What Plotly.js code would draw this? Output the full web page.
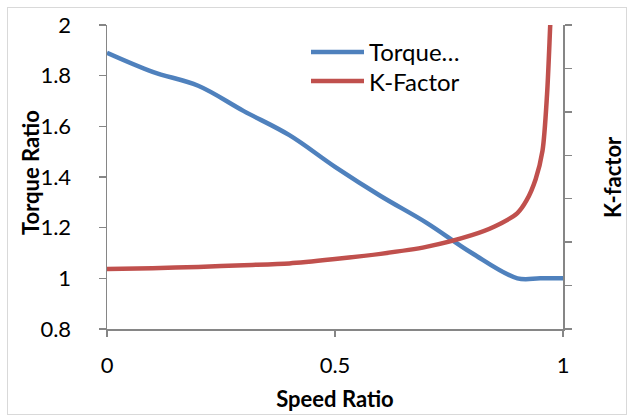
<!DOCTYPE html>
<html>
<head>
<meta charset="utf-8">
<script src="https://cdn.plot.ly/plotly-3.0.1.min.js"></script>
<style>
  html, body { margin: 0; padding: 0; background: #fff; }
  #wrap { position: relative; width: 629px; height: 417px; }
  #chart { position: absolute; left: 0; top: 0; width: 629px; height: 417px; }
  #frame { position: absolute; left: 7px; top: 7px; width: 618px; height: 406px; border: 1.5px solid #d9d9d9; pointer-events: none; }
</style>
</head>
<body>
<div id="wrap"><div id="chart"></div><div id="frame"></div></div>
<script>
// Data
var speedRatio = [0, 0.1, 0.2, 0.3, 0.4, 0.5, 0.6, 0.7, 0.8, 0.9, 0.95, 1.0];
var torqueRatio = [1.89, 1.815, 1.76, 1.66, 1.565, 1.44, 1.325, 1.22, 1.10, 1.0, 1.0, 1.0];

var kSpeed = [0, 0.1, 0.2, 0.3, 0.4, 0.5, 0.6, 0.7, 0.8, 0.85, 0.9, 0.92, 0.94, 0.955, 0.965, 0.972, 0.98];
var kFactor = [138, 140, 143, 147, 151, 161, 173, 189, 216, 236, 267, 296, 345, 410, 540, 700, 900];

var seriesNames = ["Torque\u2026", "K-Factor"];
var axisTitles = ["Speed Ratio", "Torque Ratio", "K-factor"];
var xTicks = [0, 0.5, 1];
var yTicks = [0.8, 1, 1.2, 1.4, 1.6, 1.8, 2];

var blue = "#4F81BD", red = "#C0504D", axisGray = "#868686";
var font = "Lato, 'Open Sans', sans-serif";

var traces = [
  { x: speedRatio, y: torqueRatio, name: seriesNames[0], type: "scatter", mode: "lines",
    line: { color: blue, width: 4.5, shape: "spline", smoothing: 1 }, yaxis: "y" },
  { x: kSpeed, y: kFactor, name: seriesNames[1], type: "scatter", mode: "lines",
    line: { color: red, width: 4.5, shape: "spline", smoothing: 0.8 }, yaxis: "y2" }
];

// manual legend and y titles (paper coords)
function px2x(p) { return (p - 107) / 456; }
function py2y(p) { return (329 - p) / 304; }
var legendRows = [52, 81];
var shapes = [], annotations = [];
[blue, red].forEach(function (c, i) {
  shapes.push({ type: "line", xref: "paper", yref: "paper",
    x0: px2x(311), x1: px2x(364), y0: py2y(legendRows[i]), y1: py2y(legendRows[i]),
    line: { color: c, width: 4.5 } });
  annotations.push({ xref: "paper", yref: "paper", x: px2x(367), y: py2y(legendRows[i]),
    xanchor: "left", yanchor: "middle", showarrow: false, text: seriesNames[i],
    font: { family: font, size: 24, color: "#000" } });
});
annotations.push({ xref: "paper", yref: "paper", x: px2x(30), y: py2y(173),
  xanchor: "center", yanchor: "middle", textangle: -90, showarrow: false,
  text: "<b>" + axisTitles[1] + "</b>", font: { family: font, size: 22, color: "#000" } });
annotations.push({ xref: "paper", yref: "paper", x: px2x(612), y: py2y(177),
  xanchor: "center", yanchor: "middle", textangle: -90, showarrow: false,
  text: "<b>" + axisTitles[2] + "</b>", font: { family: font, size: 22, color: "#000" } });

var layout = {
  width: 629, height: 417,
  margin: { l: 107, r: 66, t: 25, b: 88 },
  paper_bgcolor: "#fff", plot_bgcolor: "#fff",
  showlegend: false,
  font: { family: font, size: 22, color: "#000" },
  xaxis: {
    range: [0, 1], tickvals: xTicks, ticktext: xTicks.map(String),
    showgrid: false, zeroline: false, showline: true, linecolor: axisGray, linewidth: 1.5,
    ticks: "outside", ticklen: 6, tickwidth: 1.5, tickcolor: axisGray,
    ticklabelstandoff: 10,
    title: { text: "<b>" + axisTitles[0] + "</b>", font: { family: font, size: 22 }, standoff: 14 }
  },
  yaxis: {
    range: [0.8, 2], tickvals: yTicks, ticktext: ["0.8", "1", "1.2", "1.4", "1.6", "1.8", "2"],
    showgrid: false, zeroline: false, showline: true, linecolor: axisGray, linewidth: 1.5,
    ticks: "outside", ticklen: 7, tickwidth: 1.5, tickcolor: axisGray,
    ticklabelstandoff: 23
  },
  yaxis2: {
    range: [0, 700], dtick: 100, overlaying: "y", side: "right",
    showticklabels: false, showgrid: false, zeroline: false,
    showline: true, linecolor: axisGray, linewidth: 1.5,
    ticks: "outside", ticklen: 7, tickwidth: 1.5, tickcolor: axisGray
  },
  shapes: shapes,
  annotations: annotations
};

Plotly.newPlot("chart", traces, layout, { displayModeBar: false, staticPlot: true });
</script>
</body>
</html>
